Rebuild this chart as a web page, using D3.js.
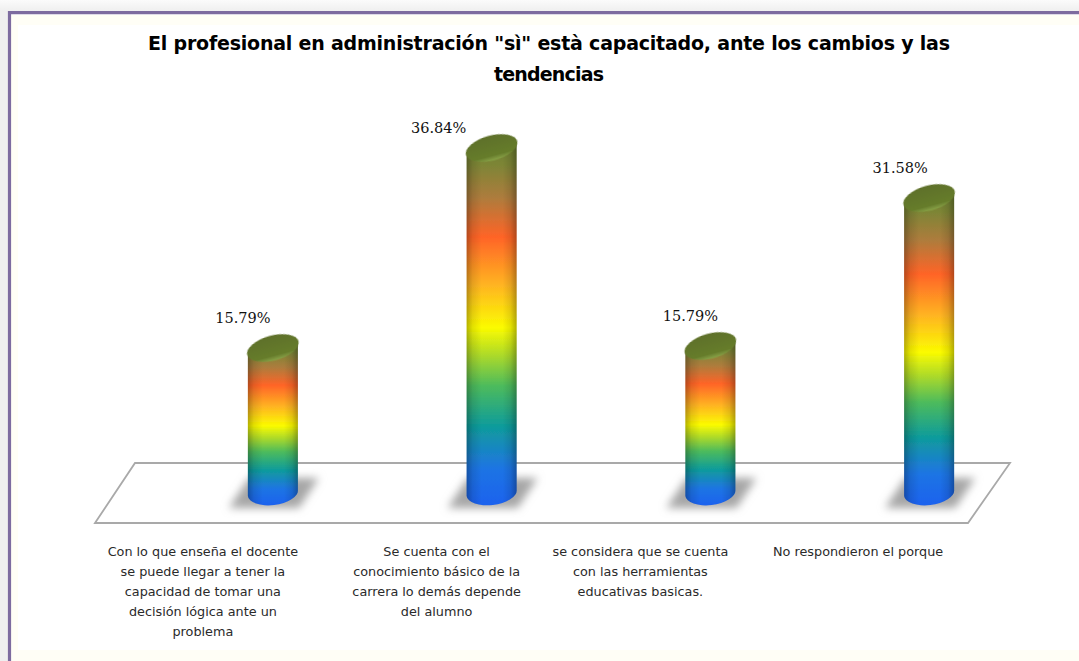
<!DOCTYPE html>
<html>
<head>
<meta charset="utf-8">
<script src="https://cdn.jsdelivr.net/npm/d3@7"></script>
<style>
html, body { margin: 0; padding: 0; background: #fff; overflow: hidden; }
text { fill: #111; }
.title { font: bold 19px "DejaVu Sans", sans-serif; fill: #000; }
.cat { font: 12.8px "DejaVu Sans", sans-serif; fill: #2a2a2a; }
.val { font: 14.5px "DejaVu Serif", serif; }
</style>
</head>
<body>
<svg id="chart" width="1079" height="661"></svg>
<script>
var categories = ["c1", "c2", "c3", "c4"];
var values = [15.79, 36.84, 15.79, 31.58];
var valueLabels = ["15.79%", "36.84%", "15.79%", "31.58%"];
var catLines = [
    ["Con lo que enseña el docente", "se puede llegar a tener la", "capacidad de tomar una", "decisión lógica ante un", "problema"],
    ["Se cuenta con el", "conocimiento básico de la", "carrera lo demás depende", "del alumno"],
    ["se considera que se cuenta", "con las herramientas", "educativas basicas."],
    ["No respondieron el porque"]
];
var titleLines = ['El profesional en  administración "sì" està capacitado, ante los cambios y las', "tendencias"];
var titleWidths = [802, 110];

// hand placed offsets, the original labels are not centred on the bars
var valueOffsets = [-30, -53, -20, -29];
var valueNudge = [0, 10, 0, 0];
var catOffsets = [-70, -55, -70, -71];
var topNudge = [0, 0, -2, 0];

var colorStops = [
    [0, "#1f62ee"], [0.1, "#1f74e4"], [0.22, "#0f9c9a"], [0.33, "#4dbb5c"],
    [0.41, "#a8d82c"], [0.49, "#fbfb00"], [0.61, "#ffb322"], [0.74, "#ff6427"],
    [0.85, "#ad7c3c"], [0.94, "#7d8536"], [1, "#6b8030"]
];

var barWidth = 50;
var svg = d3.select("#chart");

var x = d3.scaleBand().domain(categories).range([163.5, 1038.5]);
var y = d3.scaleLinear().domain([0, 36.84]).range([498, 148]);
function cx(i) { return x(categories[i]) + x.bandwidth() / 2; }

var defs = svg.append("defs");

var page = defs.append("linearGradient").attr("id", "page").attr("x1", 0).attr("y1", 0).attr("x2", 0).attr("y2", 1);
page.append("stop").attr("offset", 0).attr("stop-color", "#fbfbfb");
page.append("stop").attr("offset", 1).attr("stop-color", "#ececec");

var rainbow = defs.append("linearGradient").attr("id", "rainbow").attr("x1", 0).attr("y1", 1).attr("x2", 0).attr("y2", 0);
colorStops.forEach(function(s) {
    rainbow.append("stop").attr("offset", s[0]).attr("stop-color", s[1]);
});

var shade = defs.append("linearGradient").attr("id", "shade");
[[0, 0.28], [0.12, 0.1], [0.3, 0], [0.72, 0], [0.88, 0.1], [1, 0.3]].forEach(function(s) {
    shade.append("stop").attr("offset", s[0]).attr("stop-color", "#000").attr("stop-opacity", s[1]);
});

var cap = defs.append("linearGradient").attr("id", "cap").attr("x1", 0).attr("y1", 0).attr("x2", 0).attr("y2", 1);
cap.append("stop").attr("offset", 0).attr("stop-color", "#5e7029");
cap.append("stop").attr("offset", 0.8).attr("stop-color", "#667c2c");
cap.append("stop").attr("offset", 1).attr("stop-color", "#89a347");

defs.append("filter").attr("id", "blur").attr("x", "-30%").attr("y", "-50%").attr("width", "160%").attr("height", "200%")
    .append("feGaussianBlur").attr("stdDeviation", 4);

defs.append("filter").attr("id", "soft").attr("x", "-5%").attr("y", "-5%").attr("width", "110%").attr("height", "110%")
    .append("feGaussianBlur").attr("stdDeviation", 0.5);

// page and frame
svg.append("rect").attr("width", 1079).attr("height", 14).attr("fill", "url(#page)");
svg.append("rect").attr("y", 12).attr("width", 9).attr("height", 649).attr("fill", "#efefef");
svg.append("rect").attr("x", 11).attr("y", 15).attr("width", 1068).attr("height", 646).attr("fill", "#fffef6");
svg.append("rect").attr("x", 18).attr("y", 25).attr("width", 1061).attr("height", 625).attr("fill", "#fff");
svg.append("path").attr("d", "M1079,12.7H9.5V661")
    .attr("fill", "none").attr("stroke", "#7d6b9f").attr("stroke-width", 3.2);

// floor
svg.append("path")
    .attr("d", "M95,523L135,463L1010,463L968,523Z")
    .attr("fill", "#fff").attr("stroke", "#a9a9a9").attr("stroke-width", 1.8);

// title
svg.selectAll(".title").data(titleLines).enter().append("text")
    .attr("class", "title")
    .attr("x", 549)
    .attr("y", function(d, i) { return 50 + i * 31; })
    .attr("text-anchor", "middle")
    .attr("textLength", function(d, i) { return titleWidths[i]; })
    .text(function(d) { return d; });

// shadows
svg.selectAll(".shadow").data(values).enter().append("path")
    .attr("class", "shadow")
    .attr("d", function(d, i) {
        var c = cx(i);
        return "M" + (c - 24) + "," + (y(0) - 20) + "L" + (c + 46) + "," + (y(0) - 20) +
            "L" + (c + 26) + "," + (y(0) + 10) + "L" + (c - 44) + "," + (y(0) + 10) + "Z";
    })
    .attr("fill", "#a6a6a6")
    .attr("filter", "url(#blur)");

// cylinders
function cylinder(d, i) {
    var c = cx(i), r = barWidth / 2, t = y(d) + topNudge[i], b = y(0);
    return "M" + (c - r) + "," + (t + 5) + "L" + (c + r) + "," + (t - 5) +
        "L" + (c + r) + "," + (b - 8) +
        "A" + r + ",12 -7 0 1 " + (c - r) + "," + (b - 2) + "Z";
}

svg.selectAll(".bar").data(values).enter().append("path")
    .attr("class", "bar")
    .attr("d", cylinder)
    .attr("fill", "url(#rainbow)")
    .attr("filter", "url(#soft)");

svg.selectAll(".barshade").data(values).enter().append("path")
    .attr("class", "barshade")
    .attr("d", cylinder)
    .attr("fill", "url(#shade)");

svg.selectAll(".top").data(values).enter().append("ellipse")
    .attr("class", "top")
    .attr("rx", barWidth / 2 + 1.5)
    .attr("ry", 12.5)
    .attr("transform", function(d, i) {
        return "translate(" + cx(i) + "," + (y(d) + topNudge[i]) + ") rotate(-15)";
    })
    .attr("fill", "url(#cap)")
    .attr("filter", "url(#soft)");

// value labels
svg.selectAll(".val").data(values).enter().append("text")
    .attr("class", "val")
    .attr("x", function(d, i) { return cx(i) + valueOffsets[i]; })
    .attr("y", function(d, i) { return y(d) + topNudge[i] - 25 + valueNudge[i]; })
    .attr("text-anchor", "middle")
    .text(function(d, i) { return valueLabels[i]; });

// category labels
catLines.forEach(function(lines, i) {
    svg.selectAll(".cat" + i).data(lines).enter().append("text")
        .attr("class", "cat cat" + i)
        .attr("x", cx(i) + catOffsets[i])
        .attr("y", function(d, j) { return 556 + j * 20; })
        .attr("text-anchor", "middle")
        .text(function(d) { return d; });
});
</script>
</body>
</html>
